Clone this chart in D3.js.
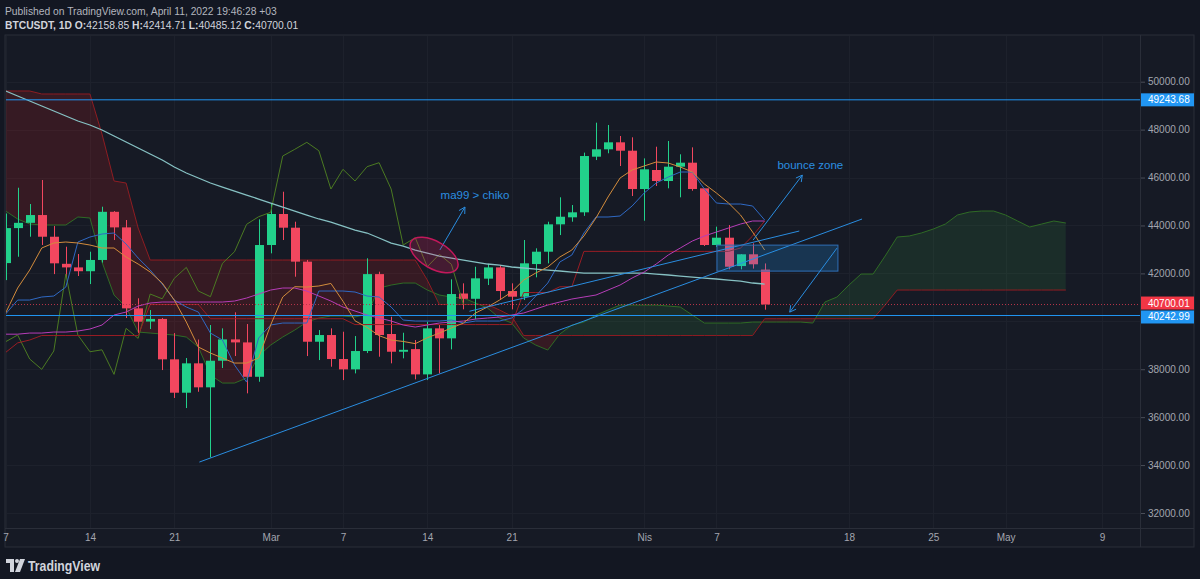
<!DOCTYPE html>
<html><head><meta charset="utf-8">
<script src="https://cdn.jsdelivr.net/npm/d3@7"></script>
<style>
html,body{margin:0;padding:0;background:#131722;}
svg{display:block;}
text{font-family:"Liberation Sans",Arial,sans-serif;}
</style></head><body>
<svg id="chart" width="1200" height="579"></svg>
<script>
// ---------------- DATA ----------------
const startDay = new Date(Date.UTC(2022,1,7));
const candleDates = d3.utcDay.range(startDay, new Date(Date.UTC(2022,3,12))); // Feb 7 .. Apr 11
const cloudDates  = d3.utcDay.range(startDay, new Date(Date.UTC(2022,4,7)));  // Feb 7 .. May 6

const open  = [42430,43890,44110,44435,43530,42400,42250,42090,42560,44570,43920,40540,39990,40100,38413,37020,38246,37245,38355,39245,39120,37685,43184,44478,43907,42490,39148,39427,38426,37995,38760,41970,39470,38730,38840,37785,39706,39289,41160,40940,41780,42250,41264,41027,42390,42905,44047,44340,44549,46870,47178,47470,47120,45521,46315,45855,46453,46620,45550,43184,43490,42306,42797,42158.85];
const high  = [44500,45575,44895,45897,43977,43113,42808,42905,44783,44600,44228,40960,40470,40140,39510,38468,39240,39845,39706,40375,39887,44256,44924,45408,44157,42560,39636,39706,39565,39385,42630,42070,40191,39523,39219,39983,39845,41752,41585,42278,42390,42350,41585,43393,43046,44157,45175,44853,47040,48290,48193,47734,47679,46800,47287,47525,46970,47260,45550,43950,44018,42800,43255,42414.71];
const low   = [41720,42695,43530,43184,41970,41850,41890,41555,42450,43393,40137,39510,39678,37966,36800,36380,37060,34320,38050,38550,36994,37478,42837,43393,41861,38550,38384,38105,37548,37826,38675,38522,38246,38455,37578,37548,37826,38830,40500,40083,41514,40888,40500,40888,41836,42418,43600,44157,44400,46730,47012,46481,45229,44198,45647,45550,45175,45450,43142,43100,42170,42170,42200,40485.12];
const close = [43890,44110,44435,43530,42420,42250,42090,42560,44570,43920,40540,39983,40100,38413,37020,38246,37245,38355,39245,39120,37685,43184,44478,43907,42490,39148,39427,38426,37995,38760,41970,39427,38730,38810,37785,39706,39289,41138,40940,41794,42250,41264,41027,42420,42905,44047,44365,44549,46898,47178,47470,47120,45521,46343,45855,46453,46620,45521,43184,43490,42278,42797,42380,40700.01];

const ma7   = [40345,41389,42140,43059,43268,43310,43268,43184,43059,43059,42683,42391,42057,41597,40888,39970,38926,38676,38467,38258,38258,38467,39850,41014,41444,41430,41474,41580,40839,40022,39745,39400,39218,39160,39068,39313,39510,39720,39927,40345,40596,40888,41222,41723,42015,42266,42683,42975,43560,44312,45188,45981,46315,46482,46649,46607,46440,46231,45730,45354,44937,44436,43727,42975];
const ma25  = [39463,39463,39510,39510,39552,39552,39594,39678,39845,40262,40387,40638,40763,40805,40805,40805,40805,40805,40805,40846,40971,41138,41305,41389,41389,41264,41055,40846,40596,40429,40262,40137,40012,39845,39761,39845,39928,39970,40012,40095,40137,40179,40262,40346,40513,40680,40805,40930,41014,41097,41305,41514,41806,42057,42391,42767,43059,43351,43560,43727,43894,44061,44186,44186];
const ma99  = [49612,49403,49194,48986,48777,48568,48360,48193,47984,47733,47483,47233,46982,46732,46440,46189,45981,45772,45605,45438,45271,45104,44937,44770,44603,44436,44270,44144,43977,43810,43685,43476,43267,43142,42975,42850,42725,42641,42558,42474,42391,42349,42266,42224,42182,42140,42099,42057,42015,42015,42015,42015,42015,42015,41973,41932,41890,41848,41806,41765,41723,41681,41598,41556];
const tenkan = [40303,40888,40888,41014,41055,41430,43309,43518,43643,43685,43226,42641,42140,41556,40888,40596,40387,39510,39218,38175,37465,39300,39845,39928,39928,39928,41264,41264,41264,41222,41055,41014,40596,40053,40012,40012,40012,40053,39928,40012,40012,40012,40137,40513,41055,41597,42474,42767,43685,44353,44353,44395,44812,45354,45772,46022,46231,46231,45522,44937,44895,44895,44812,44228];
const kijun  = [38700,39100,39220,39407,39407,39407,39407,39407,39407,39407,39407,39407,40700,40700,40700,40700,40700,40108,40108,40108,40108,40108,40108,40108,40108,40108,40108,40108,40108,39864,39864,39864,39864,39864,39864,39864,39864,39864,39864,39864,39864,39864,39864,41201,41201,41201,41443,41443,42919,42919,42919,42919,42919,42919,42919,42919,42919,42919,42919,42919,42919,43058,43560,44187];
const senkouA = [44603,44269,44060,44019,44019,44019,44353,44311,42474,41097,40596,39552,39510,39468,39427,39343,38926,37757,37423,37423,37632,38551,39009,39343,39635,39969,40136,40220,40220,40178,40303,41388,41514,41597,41597,41305,41097,41013,40971,40763,40554,40136,39928,39302,39009,38801,39468,39843,39969,40261,40470,40679,40679,40679,40679,40637,40596,40261,39928,39928,39928,39928,39969,39969,39969,39969,39969,39928,40804,41013,41514,41973,41973,42725,43518,43560,43685,43852,44060,44436,44562,44603,44603,44436,44186,43936,44060,44186,44102];
const senkouB = [49612,49612,49612,49487,49487,49487,49487,49487,47815,45856,45770,43894,42558,42558,42558,42558,42558,42558,42558,42558,42558,42558,42558,42558,42558,42558,42558,42558,42558,42558,42558,42558,42558,42558,42558,41723,40700,40700,40700,40700,40700,40470,40220,39407,39407,39407,39407,39407,39407,39407,39407,39407,39407,39407,39407,39407,39407,39407,39407,39407,39407,39407,39407,40108,40108,40108,40108,40108,40108,40108,40108,40108,40108,40680,41305,41305,41305,41305,41305,41305,41305,41305,41305,41305,41305,41305,41305,41305,41305];
const chikouShift = 25;

const yTickValues = [32000,34000,36000,38000,42000,44000,46000,48000,50000];
const xTickDates  = ["2022-02-07","2022-02-14","2022-02-21","2022-03-01","2022-03-07","2022-03-14","2022-03-21","2022-04-01","2022-04-07","2022-04-18","2022-04-25","2022-05-01","2022-05-09"];
const xTickLabels = ["7","14","21","Mar","7","14","21","Nis","7","18","25","May","9"];

const hLines = [{v:49243.68,c:"#2196f3"},{v:40242.99,c:"#2196f3"}];
const lastPrice = 40700.01;
// trend lines: [dateA, priceA, dateB, priceB]
const trendLines = [
  ["2022-02-23T02:00", 34126, "2022-04-19T02:00", 44269],
  ["2022-03-17T12:00", 40420, "2022-04-13T21:00", 43768]
];
const zoneBox = ["2022-04-07T01:00", 43180, "2022-04-17T02:00", 42095];
const arrows = [
  ["2022-03-15T01:00", 42975, "2022-03-17T03:00", 44770],
  ["2022-04-10T01:00", 43390, "2022-04-14T03:00", 46100],
  ["2022-04-17T00:00", 43054, "2022-04-13T02:00", 40383]
];
const notes = [
  {t:"ma99 > chiko", d:"2022-03-17T23:00", v:45270},
  {t:"bounce zone",  d:"2022-04-14T19:00", v:46522}
];
const ellipseNote = {d:"2022-03-14T13:30", v:42766, rx:26.6, ry:13.5, rot:30};

// ---------------- SCALES ----------------
const svg = d3.select("#chart");
const P = {l:6, r:1140, t:36, b:528};
const x = d3.scaleUtc().domain([startDay, new Date(Date.UTC(2022,4,9))]).range([5.6, 1102]);
const y = d3.scaleLinear().domain([32000, 50000]).range([513, 81.7]);
const pd = s => new Date(s + (s.length > 10 ? "Z" : "T00:00Z"));

// backgrounds
svg.append("rect").attr("width",1200).attr("height",579).attr("fill","#131722");
svg.append("rect").attr("x",5).attr("y",35).attr("width",1189).attr("height",512)
  .attr("fill","#161a25").attr("stroke","#2a2e39").attr("stroke-width",1);
svg.append("line").attr("x1",5).attr("x2",1194).attr("y1",P.b+0.5).attr("y2",P.b+0.5).attr("stroke","#2a2e39");
svg.append("line").attr("x1",P.r+0.5).attr("x2",P.r+0.5).attr("y1",35).attr("y2",547).attr("stroke","#2a2e39");

svg.append("defs").append("clipPath").attr("id","plotClip")
  .append("rect").attr("x",P.l).attr("y",P.t).attr("width",P.r-P.l).attr("height",P.b-P.t);
const g = svg.append("g").attr("clip-path","url(#plotClip)");

// grid
g.selectAll(".vg").data(xTickDates).join("line")
  .attr("x1",d=>Math.round(x(pd(d)))+0.5).attr("x2",d=>Math.round(x(pd(d)))+0.5)
  .attr("y1",P.t).attr("y2",P.b).attr("stroke","#1d212c");
g.selectAll(".hg").data(yTickValues.concat([40000])).join("line")
  .attr("y1",d=>Math.round(y(d))+0.5).attr("y2",d=>Math.round(y(d))+0.5)
  .attr("x1",P.l).attr("x2",P.r).attr("stroke","#1d212c");

// cloud
const cloud = cloudDates.map((d,i)=>({d, a:senkouA[i], b:senkouB[i]}));
const defs = svg.select("defs");
defs.append("clipPath").attr("id","aboveB").append("path")
  .attr("d", d3.area().x(p=>x(p.d)).y0(0).y1(p=>y(p.b))(cloud));
defs.append("clipPath").attr("id","belowB").append("path")
  .attr("d", d3.area().x(p=>x(p.d)).y0(600).y1(p=>y(p.b))(cloud));
const band = d3.area().x(p=>x(p.d)).y0(p=>y(p.a)).y1(p=>y(p.b));
g.append("path").attr("d",band(cloud)).attr("fill","rgba(67,160,71,0.14)").attr("clip-path","url(#aboveB)");
g.append("path").attr("d",band(cloud)).attr("fill","rgba(183,28,28,0.20)").attr("clip-path","url(#belowB)");
const lineOf = (arr, dates) => d3.line().x((v,i)=>x(dates[i])).y(v=>y(v))(arr);
g.append("path").attr("d",lineOf(senkouA,cloudDates)).attr("fill","none").attr("stroke","#2f6b25").attr("stroke-width",1);
g.append("path").attr("d",lineOf(senkouB,cloudDates)).attr("fill","none").attr("stroke","#8f1c22").attr("stroke-width",1);

// candles
const candles = candleDates.map((d,i)=>({d,o:open[i],h:high[i],l:low[i],c:close[i]}));
const up = "#22d18b", dn = "#f2475f", bw = 9;
const cg = g.append("g");
cg.selectAll("line").data(candles).join("line")
  .attr("x1",c=>Math.round(x(c.d))+0.5).attr("x2",c=>Math.round(x(c.d))+0.5)
  .attr("y1",c=>y(c.h)).attr("y2",c=>y(c.l)).attr("stroke",c=>c.c>=c.o?up:dn);
cg.selectAll("rect").data(candles).join("rect")
  .attr("x",c=>Math.round(x(c.d))-4).attr("width",bw)
  .attr("y",c=>y(Math.max(c.o,c.c))).attr("height",c=>Math.max(1,Math.abs(y(c.o)-y(c.c))))
  .attr("fill",c=>c.c>=c.o?up:dn);

// indicator lines
const chikou = close.map((v,k)=>({d:candleDates[k-chikouShift], v})).filter(p=>p.d);
g.append("path").attr("d",d3.line().x(p=>x(p.d)).y(p=>y(p.v))(chikou)).attr("fill","none").attr("stroke","#4b7a22").attr("stroke-width",1);
g.append("path").attr("d",lineOf(kijun,candleDates)).attr("fill","none").attr("stroke","#9a1d24").attr("stroke-width",1);
g.append("path").attr("d",lineOf(tenkan,candleDates)).attr("fill","none").attr("stroke","#2f69c4").attr("stroke-width",1);
g.append("path").attr("d",lineOf(ma99,candleDates)).attr("fill","none").attr("stroke","#86c1c3").attr("stroke-width",1.3);
g.append("path").attr("d",lineOf(ma25,candleDates)).attr("fill","none").attr("stroke","#b63db8").attr("stroke-width",1);
g.append("path").attr("d",lineOf(ma7,candleDates)).attr("fill","none").attr("stroke","#d38c3c").attr("stroke-width",1);

// horizontal lines
g.selectAll(".hl").data(hLines).join("line")
  .attr("x1",P.l).attr("x2",P.r).attr("y1",d=>y(d.v)).attr("y2",d=>y(d.v))
  .attr("stroke",d=>d.c).attr("stroke-width",1);
g.append("line").attr("x1",P.l).attr("x2",P.r).attr("y1",y(lastPrice)).attr("y2",y(lastPrice))
  .attr("stroke","#b8364a").attr("stroke-dasharray","1,2").attr("stroke-width",1);

// drawings
const ann = g.append("g");
trendLines.forEach(t=>{
  ann.append("line").attr("x1",x(pd(t[0]))).attr("y1",y(t[1])).attr("x2",x(pd(t[2]))).attr("y2",y(t[3]))
    .attr("stroke","#2a8de0").attr("stroke-width",1);
});
ann.append("rect").attr("x",x(pd(zoneBox[0]))).attr("y",y(zoneBox[1]))
  .attr("width",x(pd(zoneBox[2]))-x(pd(zoneBox[0]))).attr("height",y(zoneBox[3])-y(zoneBox[1]))
  .attr("fill","rgba(33,150,243,0.22)").attr("stroke","#2f6fb6").attr("stroke-width",1);
arrows.forEach(a=>{
  const x1=x(pd(a[0])), y1=y(a[1]), x2=x(pd(a[2])), y2=y(a[3]);
  ann.append("line").attr("x1",x1).attr("y1",y1).attr("x2",x2).attr("y2",y2).attr("stroke","#2a8de0").attr("stroke-width",1);
  const ang = Math.atan2(y1-y2, x1-x2), L=7;
  [0.5,-0.5].forEach(s=>{
    ann.append("line").attr("x1",x2).attr("y1",y2)
      .attr("x2",x2+L*Math.cos(ang+s)).attr("y2",y2+L*Math.sin(ang+s))
      .attr("stroke","#2a8de0").attr("stroke-width",1);
  });
});
ann.append("ellipse").attr("cx",0).attr("cy",0).attr("rx",ellipseNote.rx).attr("ry",ellipseNote.ry)
  .attr("transform",`translate(${x(pd(ellipseNote.d))},${y(ellipseNote.v)}) rotate(${ellipseNote.rot})`)
  .attr("fill","rgba(233,30,99,0.22)").attr("stroke","#c2185b").attr("stroke-width",1.5);
ann.selectAll(".note").data(notes).join("text")
  .attr("x",d=>x(pd(d.d))).attr("y",d=>y(d.v)+4).attr("text-anchor","middle")
  .attr("fill","#2b8ee0").attr("font-size",11.5).text(d=>d.t);

// axes
const yAxis = d3.axisRight(y).tickValues(yTickValues).tickFormat(d=>d.toFixed(2)).tickSize(4).tickPadding(3);
const ya = svg.append("g").attr("transform",`translate(${P.r+1},0)`).call(yAxis);
ya.select(".domain").remove();
ya.selectAll("line").attr("stroke","#4a4e59");
ya.selectAll("text").attr("fill","#a3a6af").attr("font-size",10).attr("font-family","Liberation Sans, Arial, sans-serif");

const xAxis = d3.axisBottom(x).tickValues(xTickDates.map(pd)).tickFormat((d,i)=>xTickLabels[i]).tickSize(0).tickPadding(6);
const xa = svg.append("g").attr("transform",`translate(0,${P.b})`).call(xAxis);
xa.select(".domain").remove();
xa.selectAll("text").attr("fill","#a3a6af").attr("font-size",10).attr("font-family","Liberation Sans, Arial, sans-serif");

// price labels
const labels = [{v:49243.68,c:"#2196f3"},{v:40700.01,c:"#f23645"},{v:40242.99,c:"#2196f3"}];
const lg = svg.append("g");
labels.forEach(l=>{
  let cy = y(l.v);
  if (l.v===40700.01) cy -= 1.5;
  if (l.v===40242.99) cy += 1.5;
  lg.append("rect").attr("x",P.r+1).attr("y",cy-6.5).attr("width",53).attr("height",13).attr("fill",l.c);
  lg.append("text").attr("x",P.r+8).attr("y",cy+3.5).attr("fill","#ffffff").attr("font-size",10).text(l.v.toFixed(2));
});

// header
svg.append("text").attr("x",5).attr("y",15).attr("fill","#b2b5be").attr("font-size",10.3)
  .text("Published on TradingView.com, April 11, 2022 19:46:28 +03");
const h2 = svg.append("text").attr("x",5).attr("y",29).attr("fill","#d1d4dc").attr("font-size",10.3);
h2.append("tspan").attr("font-weight","bold").text("BTCUSDT, 1D ");
[["O:","42158.85"],["H:","42414.71"],["L:","40485.12"],["C:","40700.01"]].forEach((p,i)=>{
  h2.append("tspan").attr("font-weight","bold").text((i? " ":"")+p[0]);
  h2.append("tspan").text(p[1]);
});

// logo
const lo = svg.append("g").attr("fill","#d1d4dc");
lo.append("path").attr("d","M6 559 h8 v13 h-4 v-9 h-4 z");
lo.append("circle").attr("cx",17).attr("cy",561).attr("r",2);
lo.append("path").attr("d","M20 559 h5 l-5 13 h-5 z");
lo.append("text").attr("x",28).attr("y",571).attr("font-size",14).attr("font-weight","bold")
  .attr("textLength",72).attr("lengthAdjust","spacingAndGlyphs").text("TradingView");
</script>
</body></html>
